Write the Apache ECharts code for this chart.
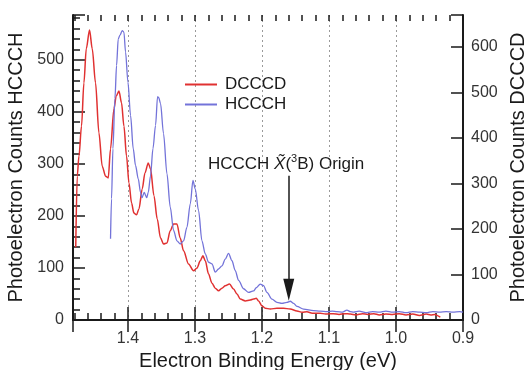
<!DOCTYPE html>
<html><head><meta charset="utf-8">
<script src="https://cdn.jsdelivr.net/npm/echarts@6/dist/echarts.min.js"></script>
<style>html,body{margin:0;padding:0;background:#fff}#c{width:527px;height:370px}</style>
</head><body><div id="c"></div>
<script>
// ---- data ----
const dcccdEnergy = [1.4779,1.4757,1.4731,1.4693,1.4657,1.4622,1.4573,1.4533,1.4484,1.4433,1.4384,1.4334,1.4294,1.4260,1.4209,1.4175,1.4134,1.4096,1.4060,1.4021,1.3985,1.3946,1.3911,1.3872,1.3836,1.3787,1.3746,1.3697,1.3663,1.3612,1.3563,1.3514,1.3469,1.3418,1.3369,1.3319,1.3269,1.3220,1.3170,1.3096,1.3021,1.2970,1.2921,1.2881,1.2846,1.2797,1.2746,1.2697,1.2648,1.2597,1.2548,1.2484,1.2424,1.2373,1.2324,1.2249,1.2175,1.2125,1.2085,1.2051,1.2000,1.1951,1.1876,1.1776,1.1678,1.1578,1.1478,1.1400,1.1329,1.1250,1.1130,1.1050,1.0936,1.0850,1.0760,1.0682,1.0600,1.0500,1.0420,1.0330,1.0250,1.0150,1.0050,0.9950,0.9850,0.9750,0.9650,0.9550,0.9480,0.9420,0.9370,0.9339];
const dcccdCounts = [160,316,360,426,521,596,637,596,521,411,338,316,312,376,464,492,503,477,426,360,301,257,235,231,244,288,323,345,332,273,222,180,167,169,196,211,211,180,152,123,108,114,130,141,130,101,81,70,64,70,75,79,68,57,46,42,44,46,48,42,31,26,24,26,26,24,20,17,18,15,15,13,14,12,14,13,11,14,12,14,11,13,12,14,11,13,10,13,11,12,9,6];
const hccchEnergy = [1.4260,1.4245,1.4224,1.4194,1.4170,1.4145,1.4120,1.4085,1.4060,1.4036,1.4000,1.3961,1.3921,1.3887,1.3846,1.3812,1.3791,1.3757,1.3720,1.3697,1.3663,1.3627,1.3588,1.3558,1.3540,1.3514,1.3469,1.3418,1.3369,1.3319,1.3269,1.3220,1.3170,1.3120,1.3070,1.3030,1.2996,1.2946,1.2896,1.2846,1.2797,1.2746,1.2697,1.2648,1.2597,1.2548,1.2499,1.2448,1.2399,1.2349,1.2275,1.2200,1.2125,1.2085,1.2026,1.1976,1.1926,1.1851,1.1776,1.1702,1.1627,1.1578,1.1528,1.1478,1.1379,1.1230,1.1130,1.1030,1.0950,1.0881,1.0800,1.0732,1.0680,1.0633,1.0550,1.0450,1.0350,1.0250,1.0150,1.0050,0.9950,0.9850,0.9750,0.9650,0.9550,0.9450,0.9350,0.9250,0.9150,0.9050,0.9000];
const hccchCounts = [156,233,329,426,489,540,547,556,553,515,457,393,329,297,271,245,235,245,235,245,277,329,374,429,427,416,358,281,217,172,152,146,152,178,223,268,252,210,152,127,111,108,92,98,104,117,128,114,95,76,60,53,56,62,69,66,53,40,34,32,34,36,32,26,21,18,17,16,17,16,15,19,16,15,17,14,16,15,17,15,16,14,16,15,14,16,15,16,15,16,15];
const xMajorTicks = [1.4, 1.3, 1.2, 1.1, 1.0, 0.9];
const annotationEnergy = 1.16;
const arrowFromCounts = 277;
const arrowToCounts = 58;

// ---- chart ----
const FONT = "'Liberation Sans', Arial, sans-serif";
const INK = '#1a1a1a';
const RED = '#e03131';
const BLUE = '#7373d9';
const X_MIN = 0.9, X_MAX = 1.482;
const YL_MAX = 586, YR_MAX = 670;

const xLabelFmt = v => xMajorTicks.some(t => Math.abs(t - v) < 1e-6) ? v.toFixed(1) : '';
const yLabelFmt = v => (Math.abs(v % 100) < 1e-6) ? String(Math.round(v)) : '';

const baseX = {type:'value', min:X_MIN, max:X_MAX, inverse:true, scale:true};
const chart = echarts.init(document.getElementById('c'), null, {renderer:'canvas'});
chart.setOption({
  animation:false,
  backgroundColor:'#fff',
  textStyle:{fontFamily:FONT},
  grid:{left:73, right:64, top:15, bottom:50, containLabel:false, outerBoundsMode:'none'},
  legend:{
    orient:'vertical', left:180, top:71, itemGap:3,
    icon:'rect', itemWidth:32, itemHeight:2,
    textStyle:{fontSize:17, color:INK, fontFamily:FONT, padding:[0,0,0,3]},
    data:['DCCCD','HCCCH']
  },
  xAxis:[
    Object.assign({}, baseX, {
      position:'bottom', interval:0.1,
      name:'Electron Binding Energy (eV)', nameLocation:'middle', nameGap:28,
      nameTextStyle:{fontSize:20, color:INK, fontFamily:FONT},
      axisLine:{show:true, lineStyle:{color:INK, width:2}},
      axisTick:{show:true, inside:true, length:13, lineStyle:{color:INK, width:1.5}},
      axisLabel:{show:true, formatter:xLabelFmt, fontSize:16, color:'#333', margin:11, fontFamily:FONT},
      splitLine:{show:true, lineStyle:{color:'#9a9a9a', type:[2,3], width:1}}
    }),
    Object.assign({}, baseX, {
      position:'bottom', interval:0.02,
      axisLine:{show:false},
      axisTick:{show:true, inside:true, length:7, lineStyle:{color:INK, width:1.5}},
      axisLabel:{show:false}, splitLine:{show:false}
    }),
    Object.assign({}, baseX, {
      position:'top', interval:0.1,
      axisLine:{show:true, lineStyle:{color:INK, width:1.5}},
      axisTick:{show:true, inside:true, length:12, lineStyle:{color:INK, width:1.5}},
      axisLabel:{show:false}, splitLine:{show:false}
    }),
    Object.assign({}, baseX, {
      position:'top', interval:0.02,
      axisLine:{show:false},
      axisTick:{show:true, inside:true, length:6, lineStyle:{color:INK, width:1.5}},
      axisLabel:{show:false}, splitLine:{show:false}
    })
  ],
  yAxis:[
    {
      type:'value', position:'left', min:0, max:YL_MAX, interval:100,
      name:'Photoelectron Counts HCCCH', nameLocation:'middle', nameGap:40, nameRotate:90,
      nameTextStyle:{fontSize:20, color:INK, fontFamily:FONT},
      axisLine:{show:true, lineStyle:{color:INK, width:2}},
      axisTick:{show:true, inside:true, length:12, lineStyle:{color:INK, width:1.5}},
      axisLabel:{show:true, formatter:yLabelFmt, fontSize:16, color:'#333', margin:9, fontFamily:FONT},
      splitLine:{show:false}
    },
    {
      type:'value', position:'left', min:0, max:YL_MAX, interval:20,
      axisLine:{show:false},
      axisTick:{show:true, inside:true, length:7, lineStyle:{color:INK, width:1.5}},
      axisLabel:{show:false}, splitLine:{show:false}
    },
    {
      type:'value', position:'right', min:0, max:YR_MAX, interval:100,
      name:'Photoelectron Counts DCCCD', nameLocation:'middle', nameGap:40, nameRotate:90,
      nameTextStyle:{fontSize:20, color:INK, fontFamily:FONT},
      axisLine:{show:true, lineStyle:{color:INK, width:2}},
      axisTick:{show:true, inside:true, length:12, lineStyle:{color:INK, width:1.5}},
      axisLabel:{show:true, formatter:yLabelFmt, fontSize:16, color:'#333', margin:8, fontFamily:FONT},
      splitLine:{show:false}
    }
  ],
  series:[
    {
      name:'DCCCD', type:'line', xAxisIndex:0, yAxisIndex:2,
      data: dcccdEnergy.map((e,i)=>[e, dcccdCounts[i]]),
      showSymbol:false, symbol:'none', smooth:0.3, smoothMonotone:'x',
      lineStyle:{color:RED, width:1.5}, itemStyle:{color:RED}, z:3
    },
    {
      name:'HCCCH', type:'line', xAxisIndex:0, yAxisIndex:0,
      data: hccchEnergy.map((e,i)=>[e, hccchCounts[i]]),
      showSymbol:false, symbol:'none', smooth:0.3, smoothMonotone:'x',
      lineStyle:{color:BLUE, width:1.3}, itemStyle:{color:BLUE}, z:4,
      markLine:{
        silent:true, animation:false,
        symbol:['none','triangle'], symbolSize:[11,22],
        lineStyle:{color:INK, width:1.5, type:'solid'},
        label:{show:false},
        data:[[{coord:[annotationEnergy, arrowFromCounts]},{coord:[annotationEnergy, arrowToCounts]}]]
      }
    }
  ],
  graphic:[
    {
      type:'text', left:208, top:153, silent:true,
      style:{
        text:'HCCCH {it|X\u0303}({sup|3}B) Origin',
        font:"17px 'Liberation Sans', Arial, sans-serif",
        fill:INK,
        rich:{
          it:{fontStyle:'italic', fontSize:17, fontFamily:FONT, fill:INK},
          sup:{fontSize:11, fontFamily:FONT, fill:INK, verticalAlign:'top', lineHeight:22}
        }
      }
    }
  ]
});
</script></body></html>
